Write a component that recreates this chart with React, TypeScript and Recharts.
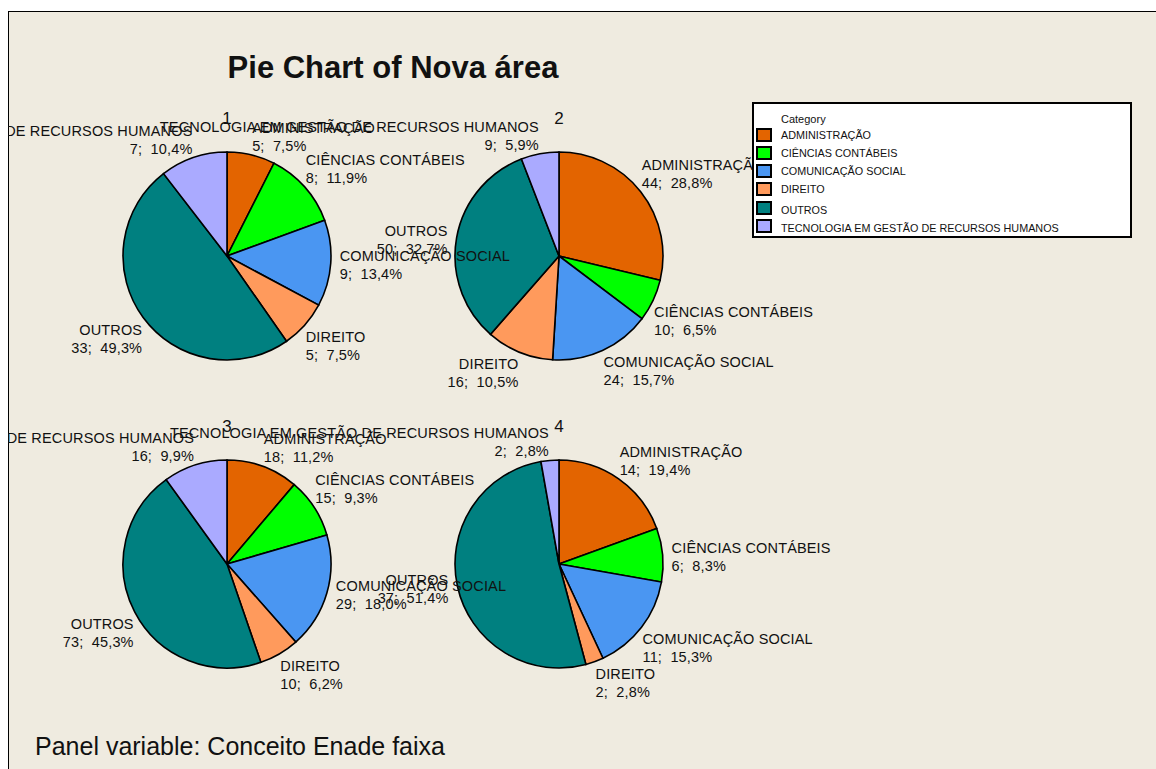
import React from 'react';
import { PieChart, Pie, Cell, Legend } from 'recharts';

const CATEGORIES = [
  'ADMINISTRAÇÃO',
  'CIÊNCIAS CONTÁBEIS',
  'COMUNICAÇÃO SOCIAL',
  'DIREITO',
  'OUTROS',
  'TECNOLOGIA EM GESTÃO DE RECURSOS HUMANOS',
];
const COLORS = ['#E36400', '#00FF00', '#4A96F2', '#FF9A5C', '#008080', '#AAAAFF'];

const PANEL_NAMES = ['1', '2', '3', '4'];
const PANEL1 = [5, 8, 9, 5, 33, 7];
const PANEL2 = [44, 10, 24, 16, 50, 9];
const PANEL3 = [18, 15, 29, 10, 73, 16];
const PANEL4 = [14, 6, 11, 2, 37, 2];
const PANELS = [PANEL1, PANEL2, PANEL3, PANEL4];

const TITLE = 'Pie Chart of Nova área';
const FOOTER = 'Panel variable: Conceito Enade faixa';
const LEGEND_TITLE = 'Category';

const BEIGE = '#EFEBE0';
const FONT = '"Liberation Sans", Arial, sans-serif';
const CHART_LEFT = 8;
const CHART_TOP = 11;
const COL_X = [219, 551];
const ROW_Y = [245, 553];
const RADIUS = 104;

const fmtPct = (v: number, total: number) => (v / total * 100).toFixed(1).replace('.', ',') + '%';

const makeLabel = (values: number[]) => {
  const total = values.reduce((a, b) => a + b, 0);
  return (props: any) => {
    const { cx, cy, midAngle, outerRadius, index } = props;
    let theta = (90 - midAngle) % 360;
    if (theta < 0) theta += 360;
    const rad = (theta * Math.PI) / 180;
    const px = cx + outerRadius * Math.sin(rad);
    const py = cy - outerRadius * Math.cos(rad);
    let x = px;
    let y1 = py;
    let anchor: 'start' | 'end' = 'start';
    if (theta >= 67.5 && theta <= 112.5) {
      x = px + 9; anchor = 'start'; y1 = py - 7;
    } else if (theta >= 247.5 && theta <= 292.5) {
      x = px - 9; anchor = 'end'; y1 = py - 7;
    } else if (theta < 67.5) {
      x = px + 1; anchor = 'start'; y1 = py - 27;
    } else if (theta < 180) {
      x = px + 1; anchor = 'start'; y1 = py + 12;
    } else if (theta < 247.5) {
      x = px - 1; anchor = 'end'; y1 = py + 12;
    } else {
      x = px - 1; anchor = 'end'; y1 = py - 27;
    }
    const v = values[index];
    return (
      <text
        x={x}
        y={y1}
        textAnchor={anchor}
        dominantBaseline="central"
        fontFamily={FONT}
        fontSize={14.5}
        letterSpacing={0.15}
        fill="#111"
        style={{ whiteSpace: 'pre' }}
      >
        <tspan x={x} y={y1}>{CATEGORIES[index]}</tspan>
        <tspan x={x} y={y1 + 18}>{`${v};  ${fmtPct(v, total)}`}</tspan>
      </text>
    );
  };
};

const LegendBox = () => (
  <div
    style={{
      position: 'relative',
      width: 380,
      height: 136,
      boxSizing: 'border-box',
      border: '2px solid #000',
      background: '#fff',
      fontFamily: FONT,
      color: '#111',
    }}
  >
    <div style={{ position: 'absolute', left: 27, top: 8, fontSize: 11, lineHeight: '14px' }}>{LEGEND_TITLE}</div>
    {CATEGORIES.map((c, i) => {
      const top = 24 + i * 18 + (i >= 4 ? 1 : 0);
      return (
        <React.Fragment key={c}>
          <div
            style={{
              position: 'absolute',
              left: 2,
              top,
              width: 16,
              height: 14,
              boxSizing: 'border-box',
              border: '2px solid #000',
              background: COLORS[i],
            }}
          />
          <div
            style={{
              position: 'absolute',
              left: 27,
              top: top + (i >= 4 ? 2 : 0),
              fontSize: 10.8,
              lineHeight: '14px',
              whiteSpace: 'nowrap',
            }}
          >
            {c}
          </div>
        </React.Fragment>
      );
    })}
  </div>
);

export default function App() {
  return (
    <div style={{ position: 'relative', width: 1156, height: 769, background: '#fff', overflow: 'hidden' }}>
      <style>{'body{margin:0}'}</style>
      <div
        style={{
          position: 'absolute',
          left: CHART_LEFT,
          top: CHART_TOP,
          width: 1156 - CHART_LEFT,
          height: 769 - CHART_TOP,
          background: BEIGE,
          boxSizing: 'border-box',
          borderTop: '1.5px solid #000',
          borderLeft: '1.5px solid #000',
        }}
      />
      <div style={{ position: 'absolute', left: CHART_LEFT, top: CHART_TOP }}>
        <PieChart width={1156 - CHART_LEFT} height={769 - CHART_TOP} margin={{ top: 0, right: 0, bottom: 0, left: 0 }}>
          {PANELS.map((vals, p) => {
            const data = vals.map((v, i) => ({ name: CATEGORIES[i], value: v }));
            return (
              <Pie
                key={p}
                data={data}
                dataKey="value"
                nameKey="name"
                cx={COL_X[p % 2]}
                cy={ROW_Y[Math.floor(p / 2)]}
                outerRadius={RADIUS}
                startAngle={90}
                endAngle={-270}
                stroke="#000"
                strokeWidth={1.6}
                labelLine={false}
                label={makeLabel(vals)}
                isAnimationActive={false}
              >
                {data.map((d, i) => (
                  <Cell key={d.name} fill={COLORS[i]} />
                ))}
              </Pie>
            );
          })}
          <Legend
            layout="vertical"
            align="right"
            verticalAlign="top"
            content={() => <LegendBox />}
            wrapperStyle={{ left: 744, top: 91, width: 380 }}
          />
        </PieChart>
      </div>
      <div
        style={{
          position: 'absolute',
          left: 193,
          width: 400,
          top: 48,
          textAlign: 'center',
          fontFamily: FONT,
          fontWeight: 'bold',
          fontSize: 31,
          lineHeight: '40px',
          color: '#111',
        }}
      >
        {TITLE}
      </div>
      {PANEL_NAMES.map((n, p) => (
        <div
          key={n}
          style={{
            position: 'absolute',
            left: CHART_LEFT + COL_X[p % 2] - 20,
            width: 40,
            top: CHART_TOP + ROW_Y[Math.floor(p / 2)] - 148,
            textAlign: 'center',
            fontFamily: FONT,
            fontSize: 17,
            lineHeight: '22px',
            color: '#111',
          }}
        >
          {n}
        </div>
      ))}
      <div
        style={{
          position: 'absolute',
          left: 35,
          top: 730,
          fontFamily: FONT,
          fontSize: 25,
          lineHeight: '32px',
          color: '#111',
          whiteSpace: 'nowrap',
        }}
      >
        {FOOTER}
      </div>
    </div>
  );
}
